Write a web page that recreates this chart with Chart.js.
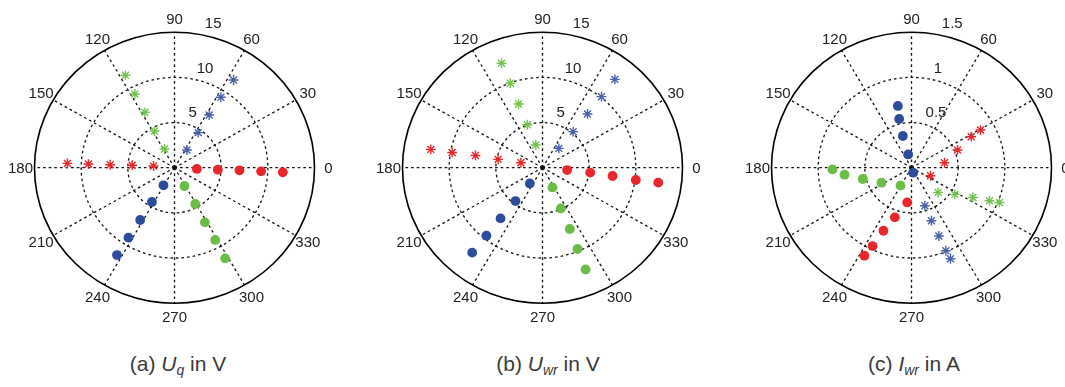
<!DOCTYPE html>
<html>
<head>
<meta charset="utf-8">
<script src="https://cdn.jsdelivr.net/npm/chart.js@4/dist/chart.umd.min.js"></script>
<style>
  html, body { margin: 0; padding: 0; background: #fff; overflow: hidden; }
  body { width: 1065px; height: 387px; position: relative; }
  canvas { position: absolute; top: 0; }
  .cap { position: absolute; top: 352px; width: 200px; text-align: center;
         font-family: "Liberation Sans", Arial, sans-serif; font-size: 21px; color: #3a3a3a; }
  .cap i { font-style: italic; }
  .cap sub { font-size: 14px; font-style: italic; vertical-align: -4px; line-height: 0; }
</style>
</head>
<body>
<canvas id="pa" width="355" height="330"></canvas>
<canvas id="pb" width="355" height="330"></canvas>
<canvas id="pc" width="355" height="330"></canvas>
<div class="cap" id="capA">(a) <i>U</i><sub>q</sub> in V</div>
<div class="cap" id="capB">(b) <i>U</i><sub>wr</sub> in V</div>
<div class="cap" id="capC">(c) <i>I</i><sub>wr</sub> in A</div>
<script>
// ---- angle labels and radial ticks ----
const angleTicks = [0, 30, 60, 90, 120, 150, 180, 210, 240, 270, 300, 330];
const voltTicks = [5, 10, 15];
const ampTicks = [0.5, 1, 1.5];

// ---- (a) Uq in V : magnitude / angle (deg) ----
const aRedDotMag = [2.4, 4.65, 6.97, 9.29, 11.62];
const aRedDotDeg = [-3.3, -2.7, -2.4, -2.5, -2.5];
const aRedStarMag = [2.26, 4.54, 6.9, 9.23, 11.48];
const aRedStarDeg = [175.2, 176.6, 177.3, 177.5, 177.6];
const aBlueStarMag = [2.37, 4.64, 6.92, 9.25, 11.59];
const aBlueStarDeg = [55.8, 56.8, 57.5, 57.5, 56.9];
const aGreenStarMag = [2.33, 4.59, 6.9, 9.2, 11.5];
const aGreenStarDeg = [117.3, 117.8, 117.3, 117.5, 117.2];
const aBlueDotMag = [2.28, 4.5, 6.86, 9.18, 11.47];
const aBlueDotDeg = [238.8, 237.5, 237.6, 237.5, 237.5];
const aGreenDotMag = [2.29, 4.59, 6.87, 9.11, 11.41];
const aGreenDotDeg = [297.8, 298.9, 298.3, 298.6, 298.4];

// ---- (b) Uwr in V ----
const bRedDotMag = [2.65, 5.14, 7.56, 10.09, 12.51];
const bRedDotDeg = [-5.6, -6.1, -7.0, -7.75, -7.6];
const bRedStarMag = [2.38, 4.84, 7.31, 9.83, 12.14];
const bRedStarDeg = [166.7, 169, 169.3, 170.1, 170.4];
const bBlueStarMag = [2.76, 5.17, 7.66, 10.09, 12.48];
const bBlueStarDeg = [50.7, 50.5, 51, 51.2, 51.6];
const bGreenStarMag = [2.61, 5.03, 7.5, 9.96, 12.36];
const bGreenStarDeg = [106, 109, 110, 110.3, 110.8];
const bBlueDotMag = [2.21, 4.69, 7.19, 9.63, 12.05];
const bBlueDotDeg = [232, 231.9, 231.3, 231.4, 231.3];
const bGreenDotMag = [2.43, 4.92, 7.39, 9.75, 12.17];
const bGreenDotDeg = [-63.9, -66.5, -66.7, -67.4, -67.7];

// ---- (c) Iwr in A ----
const cBlueDotMag = [0.058, 0.151, 0.363, 0.555, 0.699];
const cBlueDotDeg = [-72, 103.8, 104.8, 103.8, 102.1];
const cGreenDotMag = [0.231, 0.362, 0.537, 0.722, 0.847];
const cGreenDotDeg = [239.3, 207.3, 193.5, 186.2, 181.3];
const cRedDotMag = [0.387, 0.578, 0.76, 0.963, 1.097];
const cRedDotDeg = [263.2, 252, 246.7, 244.3, 242.6];
const cRedStarMag = [0.222, 0.358, 0.531, 0.726, 0.849];
const cRedStarDeg = [-23.6, 8.8, 21.7, 28.2, 29.4];
const cGreenStarMag = [0.395, 0.55, 0.735, 0.912, 1.018];
const cGreenStarDeg = [-43.7, -32.5, -26.6, -23.6, -22.2];
const cBlueStarMag = [0.445, 0.625, 0.811, 0.99, 1.091];
const cBlueStarDeg = [-71.2, -70, -68.8, -68.2, -67.5];

const RED = '#E8262B', BLUE = '#2C4C9E', GREEN = '#6ABD45';
const BLUE_STAR = '#4A62AE', GREEN_STAR = '#74C250';
const FONT = '"Liberation Sans", Arial, sans-serif';

function toXY(mag, deg) {
  return mag.map((m, i) => {
    const t = deg[i] * Math.PI / 180;
    return { x: m * Math.cos(t), y: m * Math.sin(t) };
  });
}

function dotSet(mag, deg, color) {
  return { data: toXY(mag, deg), pointStyle: 'circle', pointRadius: 4.9,
           backgroundColor: color, borderColor: color, borderWidth: 0 };
}
function starSet(mag, deg, color) {
  return { data: toXY(mag, deg), pointStyle: 'star', pointRadius: 4.9,
           backgroundColor: color, borderColor: color, borderWidth: 1.4 };
}

// polar frame: dotted rings, dotted spokes, solid outer ring, labels
const polarFrame = {
  id: 'polarFrame',
  beforeDatasetsDraw(chart, args, opts) {
    const { ctx, scales: { x, y } } = chart;
    const cx = x.getPixelForValue(0), cy = y.getPixelForValue(0);
    const R = opts.rmax;
    const rx = v => x.getPixelForValue(v) - cx;
    const ry = v => cy - y.getPixelForValue(v);
    ctx.save();
    ctx.strokeStyle = '#111';
    ctx.lineWidth = 1.3;
    ctx.setLineDash([2.6, 3]);
    opts.ticks.slice(0, -1).forEach(v => {
      ctx.beginPath();
      ctx.ellipse(cx, cy, rx(v), ry(v), 0, 0, Math.PI * 2);
      ctx.stroke();
    });
    angleTicks.forEach(a => {
      const t = a * Math.PI / 180;
      ctx.beginPath();
      ctx.moveTo(cx, cy);
      ctx.lineTo(x.getPixelForValue(R * Math.cos(t)), y.getPixelForValue(R * Math.sin(t)));
      ctx.stroke();
    });
    ctx.setLineDash([]);
    ctx.lineWidth = 1.6;
    ctx.strokeStyle = '#000';
    ctx.beginPath();
    ctx.ellipse(cx, cy, rx(R), ry(R), 0, 0, Math.PI * 2);
    ctx.stroke();

    ctx.fillStyle = '#222';
    ctx.font = '15px ' + FONT;
    ctx.textAlign = 'center';
    ctx.textBaseline = 'middle';
    angleTicks.forEach(a => {
      const t = a * Math.PI / 180;
      ctx.fillText(String(a), x.getPixelForValue(1.1 * R * Math.cos(t)),
                   y.getPixelForValue(1.1 * R * Math.sin(t)) + 1);
    });
    ctx.textAlign = 'left';
    const tr = 80 * Math.PI / 180;
    opts.ticks.forEach(v => {
      ctx.fillText(String(v), x.getPixelForValue(v * Math.cos(tr)) + 6,
                   y.getPixelForValue(v * Math.sin(tr)) - 10);
    });
    ctx.restore();
  }
};

function makePolar(id, centerX, rmax, ticks, datasets) {
  const el = document.getElementById(id);
  el.style.left = (centerX - 177.5) + 'px';
  return new Chart(el, {
    type: 'scatter',
    data: { datasets },
    options: {
      responsive: false,
      animation: false,
      devicePixelRatio: 1,
      layout: { padding: { left: 37.5, right: 37.5, top: 32.2, bottom: 26.8 } },
      scales: {
        x: { type: 'linear', min: -rmax, max: rmax, display: false },
        y: { type: 'linear', min: -rmax, max: rmax, display: false }
      },
      plugins: {
        legend: { display: false },
        tooltip: { enabled: false },
        polarFrame: { rmax, ticks }
      }
    },
    plugins: [polarFrame]
  });
}

makePolar('pa', 174.3, 15, voltTicks, [
  dotSet(aRedDotMag, aRedDotDeg, RED),
  starSet(aRedStarMag, aRedStarDeg, RED),
  starSet(aBlueStarMag, aBlueStarDeg, BLUE_STAR),
  starSet(aGreenStarMag, aGreenStarDeg, GREEN_STAR),
  dotSet(aBlueDotMag, aBlueDotDeg, BLUE),
  dotSet(aGreenDotMag, aGreenDotDeg, GREEN)
]);

makePolar('pb', 542.7, 15, voltTicks, [
  dotSet(bRedDotMag, bRedDotDeg, RED),
  starSet(bRedStarMag, bRedStarDeg, RED),
  starSet(bBlueStarMag, bBlueStarDeg, BLUE_STAR),
  starSet(bGreenStarMag, bGreenStarDeg, GREEN_STAR),
  dotSet(bBlueDotMag, bBlueDotDeg, BLUE),
  dotSet(bGreenDotMag, bGreenDotDeg, GREEN)
]);

makePolar('pc', 911.2, 1.5, ampTicks, [
  dotSet(cBlueDotMag, cBlueDotDeg, BLUE),
  dotSet(cGreenDotMag, cGreenDotDeg, GREEN),
  dotSet(cRedDotMag, cRedDotDeg, RED),
  starSet(cRedStarMag, cRedStarDeg, RED),
  starSet(cGreenStarMag, cGreenStarDeg, GREEN_STAR),
  starSet(cBlueStarMag, cBlueStarDeg, BLUE_STAR)
]);

// captions centred beneath each panel
[['capA', 178], ['capB', 548], ['capC', 914]].forEach(([id, cx]) => {
  document.getElementById(id).style.left = (cx - 100) + 'px';
});
</script>
</body>
</html>
